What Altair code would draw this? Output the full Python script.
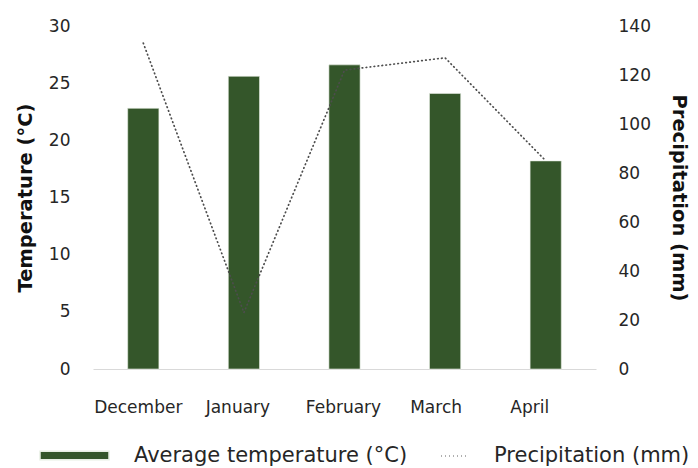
import altair as alt
import pandas as pd

months = ["December", "January", "February", "March", "April"]
temperature = [22.8, 25.6, 26.6, 24.1, 18.2]
precipitation = [133, 23, 122, 127, 85]

temp_label = "Average temperature (°C)"
precip_label = "Precipitation (mm)"

df = pd.DataFrame({
    "month": months,
    "temperature": temperature,
    "precipitation": precipitation,
    "temp_series": temp_label,
    "precip_series": precip_label,
})

FONT = "DejaVu Sans"
GREEN = "#34562A"
LINE_GREY = "#4d4d4d"
TEXT = "#262626"

# month labels sit slightly left of their bars
label_shift = {
    "condition": [
        {"test": "datum.value === 'December'", "value": -5},
        {"test": "datum.value === 'January'", "value": -6},
        {"test": "datum.value === 'March'", "value": -9},
        {"test": "datum.value === 'April'", "value": -16},
    ],
    "value": -1,
}

x = alt.X(
    "month:N",
    sort=months,
    scale=alt.Scale(paddingInner=0.69, paddingOuter=0.345),
    axis=alt.Axis(
        title=None, labelAngle=0, ticks=False, domainColor="#d9d9d9",
        domainWidth=1, labelPadding=30, labelFontSize=17, labelColor=TEXT,
        labelFont=FONT, labelOffset=label_shift,
    ),
)

bars = alt.Chart(df).mark_bar(stroke="#e8efe4", strokeWidth=0.6).encode(
    x=x,
    y=alt.Y(
        "temperature:Q",
        scale=alt.Scale(domain=[0, 30]),
        axis=alt.Axis(
            title="Temperature (°C)", values=[0, 5, 10, 15, 20, 25, 30],
            grid=False, ticks=False, domain=False, labelPadding=23,
            labelFontSize=17, labelColor=TEXT, labelFont=FONT,
            titleFont=FONT, titleFontSize=19.5, titleFontWeight="bold",
            titleColor="#111111", titlePadding=13,
        ),
    ),
    color=alt.Color(
        "temp_series:N",
        scale=alt.Scale(domain=[temp_label], range=[GREEN]),
        legend=alt.Legend(
            title=None, orient="none", legendX=-54, legendY=394,
            symbolType="M-1,-0.12L1,-0.12L1,0.12L-1,0.12Z", symbolSize=4761,
            symbolOpacity=1, labelFontSize=21, labelFont=FONT,
            labelColor=TEXT, labelOffset=24, labelLimit=500,
        ),
    ),
)

line = alt.Chart(df).mark_line(
    color=LINE_GREY, strokeWidth=1.7, strokeCap="round"
).encode(
    x=x,
    y=alt.Y(
        "precipitation:Q",
        scale=alt.Scale(domain=[0, 140]),
        axis=alt.Axis(
            title="Precipitation (mm)", orient="right",
            values=[0, 20, 40, 60, 80, 100, 120, 140],
            grid=False, ticks=False, domain=False, labelPadding=22,
            labelFontSize=17, labelColor=TEXT, labelFont=FONT,
            titleFont=FONT, titleFontSize=19.5, titleFontWeight="bold",
            titleColor="#111111", titlePadding=18,
        ),
    ),
    strokeDash=alt.StrokeDash(
        "precip_series:N",
        scale=alt.Scale(domain=[precip_label], range=[[0.6, 3.4]]),
        legend=alt.Legend(
            title=None, orient="none", legendX=347, legendY=415,
            symbolType="stroke", symbolSize=784, symbolStrokeColor="#7a7a7a",
            symbolStrokeWidth=1.8, symbolDash=[1.6, 2.4], labelFontSize=21,
            labelFont=FONT, labelColor=TEXT, labelOffset=24, labelLimit=500,
        ),
    ),
)

chart = alt.layer(bars, line).resolve_scale(
    y="independent", color="independent", strokeDash="independent"
).properties(
    width=503, height=343,
    autosize=alt.AutoSizeParams(type="none"),
    padding={"left": 93, "top": 26, "right": 102, "bottom": 99},
    background="white",
).configure_view(stroke=None)

chart.save("out.html", embed_options={"renderer": "svg", "actions": False})
